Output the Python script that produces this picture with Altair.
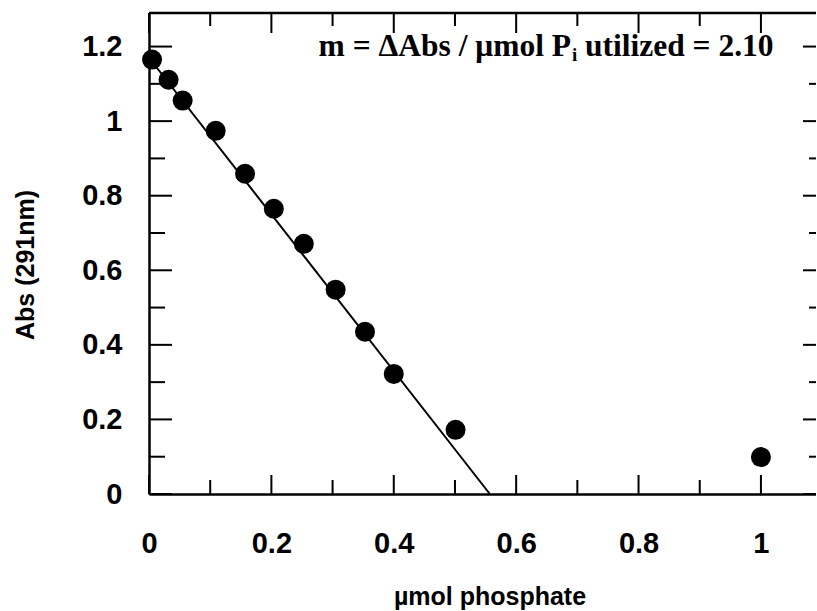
import altair as alt
import pandas as pd

# measured points
x_vals = [0.005, 0.032, 0.055, 0.109, 0.157, 0.204, 0.253, 0.305, 0.353, 0.400, 0.501, 1.0]
y_vals = [1.165, 1.111, 1.055, 0.974, 0.859, 0.765, 0.671, 0.548, 0.435, 0.322, 0.172, 0.099]

# linear fit (slope -2.10)
fit_x = [0.0, 0.557]
fit_y = [1.17, 0.0]

x_major = [0, 0.2, 0.4, 0.6, 0.8, 1.0]
x_minor = [0.1, 0.3, 0.5, 0.7, 0.9]
y_major = [0, 0.2, 0.4, 0.6, 0.8, 1.0, 1.2]
y_minor = [0.1, 0.3, 0.5, 0.7, 0.9, 1.1]

x_title = "µmol phosphate"
y_title = "Abs (291nm)"
note_left = "m = ΔAbs / μmol P"
note_sub = "i"
note_right = "utilized = 2.10"

W, H = 667, 481
XD = [0, 1.09]
YD = [0, 1.29]
SANS = "Liberation Sans"
SERIF = "Liberation Serif"

pts = pd.DataFrame({"x": x_vals, "y": y_vals})
fit = pd.DataFrame({"x": fit_x, "y": fit_y})
xmaj = pd.DataFrame({"v": x_major})
xmin = pd.DataFrame({"v": x_minor})
ymaj = pd.DataFrame({"v": y_major})
ymin = pd.DataFrame({"v": y_minor})

xs = alt.Scale(domain=XD, nice=False, zero=False)
ys = alt.Scale(domain=YD, nice=False, zero=False)

xaxis = alt.Axis(values=x_major, format="~g", ticks=False, grid=False, labelFlush=False,
                 domainColor="black", domainWidth=2.5,
                 labelFont=SANS, labelFontSize=29, labelFontWeight="bold", labelColor="black",
                 labelPadding=35, labelBaseline="top",
                 title=x_title, titleFont=SANS, titleFontSize=25, titleFontWeight="bold",
                 titleColor="black", titleBaseline="alphabetic", titleY=110, titleX=W/2 + 7)
yaxis = alt.Axis(values=y_major, format="~g", ticks=False, grid=False, labelFlush=False,
                 domainColor="black", domainWidth=2.5,
                 labelFont=SANS, labelFontSize=29, labelFontWeight="bold", labelColor="black",
                 labelPadding=27, labelBaseline="middle",
                 title=y_title, titleFont=SANS, titleFontSize=25, titleFontWeight="bold",
                 titleColor="black", titleX=-124, titleY=H/2 + 11, titleAngle=270,
                 titleBaseline="middle", titleAlign="center")

base_pts = alt.Chart(pts).mark_circle(size=400, color="black", opacity=1).encode(
    x=alt.X("x:Q", scale=xs, axis=xaxis),
    y=alt.Y("y:Q", scale=ys, axis=yaxis),
)

line = alt.Chart(fit).mark_line(color="black", strokeWidth=2).encode(
    x=alt.X("x:Q", scale=xs), y=alt.Y("y:Q", scale=ys))

top_frame = alt.Chart(pd.DataFrame({"a": [0]})).mark_rule(color="black", strokeWidth=2.5).encode(
    x=alt.value(0), x2=alt.value(W), y=alt.value(0))

def vticks(df, y0, y1, sw=2):
    return alt.Chart(df).mark_rule(color="black", strokeWidth=sw).encode(
        x=alt.X("v:Q", scale=xs), y=alt.value(y0), y2=alt.value(y1))

def hticks(df, x0, x1, sw=2):
    return alt.Chart(df).mark_rule(color="black", strokeWidth=sw).encode(
        y=alt.Y("v:Q", scale=ys), x=alt.value(x0), x2=alt.value(x1))

ticks = [
    vticks(xmaj, H, H - 19), vticks(xmin, H, H - 14),
    vticks(xmaj, 0, 20), vticks(xmin, 0, 13),
    hticks(ymaj, 0, 23), hticks(ymin, 0, 16),
    hticks(ymaj, W, W - 13), hticks(ymin, W, W - 7),
]

ax = 571 - 149
ty = 56 - 13
t1 = alt.Chart(pd.DataFrame({"t": [note_left]})).mark_text(
    font=SERIF, fontSize=31.5, fontWeight="bold", color="black", align="right", baseline="alphabetic"
).encode(x=alt.value(ax), y=alt.value(ty), text="t:N")
t2 = alt.Chart(pd.DataFrame({"t": [note_sub]})).mark_text(
    font=SERIF, fontSize=19, fontWeight="bold", color="black", align="left", baseline="alphabetic"
).encode(x=alt.value(ax + 1), y=alt.value(ty + 5), text="t:N")
t3 = alt.Chart(pd.DataFrame({"t": [note_right]})).mark_text(
    font=SERIF, fontSize=31.5, fontWeight="bold", color="black", align="left", baseline="alphabetic"
).encode(x=alt.value(ax + 14), y=alt.value(ty), text="t:N")

chart = alt.layer(base_pts, line, top_frame, *ticks, t1, t2, t3).properties(
    width=W, height=H,
    autosize=alt.AutoSizeParams(type="none"),
    padding={"left": 149, "top": 13, "right": 0, "bottom": 117},
    background="white",
).configure_view(stroke=None)

chart.save("out.html", embed_options={"renderer": "svg", "actions": False})
